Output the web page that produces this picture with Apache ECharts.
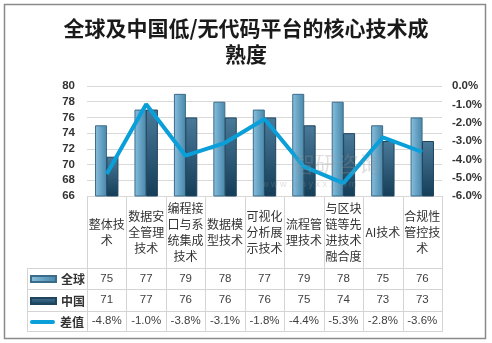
<!DOCTYPE html>
<html><head><meta charset="utf-8">
<script src="https://cdn.jsdelivr.net/npm/echarts@6/dist/echarts.min.js"></script>
<style>html,body{margin:0;padding:0;background:#fff}#c{width:492px;height:343px}</style>
</head><body><div id="c"></div>
<script>
const categories = ['整体技\n术','数据安\n全管理\n技术','编程接\n口与系\n统集成\n技术','数据模\n型技术','可视化\n分析展\n示技术','流程管\n理技术','与区块\n链等先\n进技术\n融合度','AI技术','合规性\n管控技\n术'];
const globalVals = [75, 77, 79, 78, 77, 79, 78, 75, 76];
const chinaVals = [71, 77, 76, 76, 76, 75, 74, 73, 73];
const diffVals = [-4.8, -1.0, -3.8, -3.1, -1.8, -4.4, -5.3, -2.8, -3.6];
const leftTicks = {min: 66, max: 80, interval: 2};
const rightTicks = {min: -6, max: 0, interval: 1};

const chart = echarts.init(document.getElementById('c'), null, {renderer: 'canvas'});
const tblColor = '#d4d4d4';
const txt = '#404040';
const font = "'Noto Sans CJK SC','Liberation Sans',sans-serif";
const numFont = "'Liberation Sans',sans-serif";
const GL = 87, GR = 442, GT = 86, GB = 196;
const rowLines = [268, 289, 311, 331];
function rowAxis(margin, fmt) {
  return {type: 'category', data: categories, position: 'bottom', gridIndex: 0,
    axisLine: {show: false}, axisTick: {show: false},
    axisLabel: {margin: margin, interval: 0, verticalAlign: 'middle', color: txt, fontSize: 11.5, fontFamily: numFont, formatter: fmt}};
}
function hline(x1, x2, y) {
  return {type: 'rect', silent: true, z: 0, shape: {x: x1, y: y, width: x2 - x1 + 1, height: 1}, style: {fill: tblColor}};
}
function vline(x, y1, y2) {
  return {type: 'rect', silent: true, z: 0, shape: {x: x, y: y1, width: 1, height: y2 - y1 + 1}, style: {fill: tblColor}};
}
const graphics = [
  {type: 'rect', silent: true, shape: {x: 4.5, y: 4.5, width: 481, height: 334}, style: {fill: 'none', stroke: '#8a8a8a', lineWidth: 1.5}}
];
graphics.push(hline(GL, GR, GB));
rowLines.forEach(y => graphics.push(hline(27, GR, y)));
graphics.push(vline(27, rowLines[0], rowLines[rowLines.length - 1]));
for (let i = 0; i <= categories.length; i++) {
  const x = Math.round(GL + i * (GR - GL) / categories.length);
  graphics.push(vline(x, GB, rowLines[rowLines.length - 1]));
}
graphics.push({type: 'text', left: 293, top: 153, z: 10, silent: true, style: {text: '智研咨询', fontSize: 22, fill: 'rgba(150,150,150,0.3)', fontFamily: font}});
graphics.push({type: 'text', left: 262, top: 180, z: 10, silent: true, style: {text: 'w w w . c h y x x . c o m', fontSize: 9, fill: 'rgba(150,150,150,0.3)', fontFamily: numFont}});

const legendBase = (name, top, icon, h) => ({orient: 'horizontal', left: 30, top: top, padding: 0, itemWidth: 25, itemHeight: h,
  textStyle: {fontSize: 12, color: '#333', fontWeight: 'bold', fontFamily: font},
  data: [{name: name, icon: icon}]});

const option = {
  animation: false,
  title: {text: '全球及中国低/无代码平台的核心技术成\n熟度', left: 'center', top: 10,
    textStyle: {fontSize: 21, fontWeight: 'bold', color: '#1a1a1a', lineHeight: 26, fontFamily: font}},
  grid: {left: GL, right: 492 - GR, top: GT, bottom: 343 - GB, containLabel: false},
  legend: [
    legendBase('全球', 273, 'rect', 6),
    legendBase('中国', 295, 'rect', 6),
    legendBase('差值', 316, 'path://M2,0L24,0A2,2,0,0,1,24,4L2,4A2,2,0,0,1,2,0Z', 6)
  ],
  xAxis: [
    {type: 'category', data: categories, boundaryGap: true,
      axisLine: {show: false}, axisTick: {show: false},
      axisLabel: {interval: 0, margin: 36, verticalAlign: 'middle', color: '#333', fontSize: 12, lineHeight: 16, fontFamily: font}},
    rowAxis(83, (v, i) => String(globalVals[i])),
    rowAxis(104, (v, i) => String(chinaVals[i])),
    rowAxis(125, (v, i) => diffVals[i].toFixed(1) + '%')
  ],
  yAxis: [
    {type: 'value', min: leftTicks.min, max: leftTicks.max, interval: leftTicks.interval,
      axisLine: {show: false}, axisTick: {show: false},
      splitLine: {lineStyle: {color: '#d9d9d9'}},
      axisLabel: {margin: 12, color: '#333', fontSize: 11.5, fontWeight: 'bold', fontFamily: numFont}},
    {type: 'value', min: rightTicks.min, max: rightTicks.max, interval: rightTicks.interval,
      axisLine: {show: false}, axisTick: {show: false}, splitLine: {show: false},
      axisLabel: {margin: 10, color: '#333', fontSize: 11.5, fontWeight: 'bold', fontFamily: numFont,
        formatter: v => v.toFixed(1) + '%'}}
  ],
  series: [
    {name: '全球', type: 'bar', data: globalVals, barWidth: 12, barGap: '-5%',
      itemStyle: {borderColor: '#3b6c8a', borderWidth: 1,
        color: new echarts.graphic.LinearGradient(0, 0, 1, 0, [{offset: 0, color: '#8cc0dc'}, {offset: 0.5, color: '#65a2c4'}, {offset: 1, color: '#4a86a8'}])}},
    {name: '中国', type: 'bar', data: chinaVals, barWidth: 12,
      itemStyle: {borderColor: '#1f455e', borderWidth: 1,
        color: new echarts.graphic.LinearGradient(0, 0, 0, 1, [{offset: 0, color: '#4a7a9a'}, {offset: 1, color: '#143d57'}])}},
    {name: '差值', type: 'line', yAxisIndex: 1, data: diffVals, showSymbol: false, symbol: 'none',
      lineStyle: {color: '#0a9fd8', width: 4}, itemStyle: {color: '#0a9fd8'}, z: 5}
  ],
  graphic: graphics
};
chart.setOption(option);
</script></body></html>
